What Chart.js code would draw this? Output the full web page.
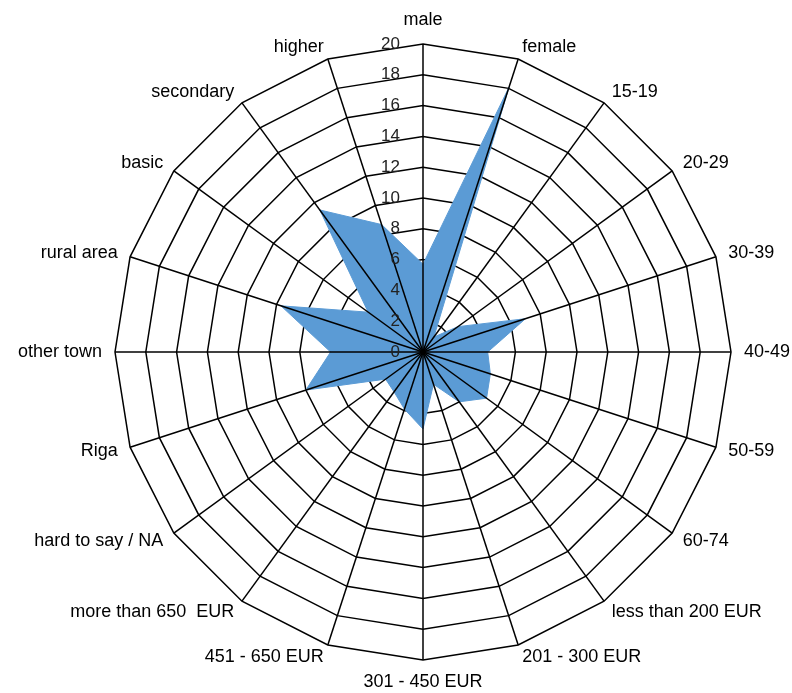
<!DOCTYPE html>
<html>
<head>
<meta charset="utf-8">
<script src="https://cdn.jsdelivr.net/npm/chart.js@4/dist/chart.umd.min.js"></script>
<style>
  body { margin: 0; background: #fff; }
  canvas { display: block; }
</style>
</head>
<body>
<canvas id="radarChart" width="792" height="693"></canvas>
<script>
// categories clockwise from the top
const categories = [
    'male', 'female', '15-19', '20-29', '30-39', '40-49', '50-59', '60-74',
    'less than 200 EUR', '201 - 300 EUR', '301 - 450 EUR', '451 - 650 EUR',
    'more than 650  EUR', 'hard to say / NA', 'Riga', 'other town',
    'rural area', 'basic', 'secondary', 'higher'
];
const values = [
    5.7, 18.1, 1.2, 2.8, 7.0, 4.2, 4.6, 5.1,
    4.0, 2.2, 5.0, 3.9,
    3.2, 3.0, 8.0, 6.0,
    9.7, 4.4, 11.4, 8.7
];
const tickValues = [0, 2, 4, 6, 8, 10, 12, 14, 16, 18, 20];

const fillColor = 'rgb(91, 155, 213)';

// spokes, tick numbers and category names go on top of the filled area
const overlay = {
    id: 'overlay',
    afterDatasetsDraw(chart) {
        const r = chart.scales.r;
        const ctx = chart.ctx;
        ctx.save();

        ctx.strokeStyle = '#000';
        ctx.lineWidth = 1.5;
        categories.forEach((c, i) => {
            const p = r.getPointPositionForValue(i, r.max);
            ctx.beginPath();
            ctx.moveTo(r.xCenter, r.yCenter);
            ctx.lineTo(p.x, p.y);
            ctx.stroke();
        });

        ctx.fillStyle = '#222';
        ctx.font = '17px Arial, "Liberation Sans"';
        ctx.textAlign = 'right';
        ctx.textBaseline = 'middle';
        tickValues.forEach(v => {
            const y = r.yCenter - r.getDistanceFromCenterForValue(v);
            ctx.fillText(String(v), r.xCenter - 23, y);
        });

        ctx.fillStyle = '#000';
        ctx.font = '18px Arial, "Liberation Sans"';
        categories.forEach((c, i) => {
            const a = r.getIndexAngle(i);
            const p = r.getPointPosition(i, r.drawingArea + 13);
            const s = Math.sin(a), co = Math.cos(a);
            ctx.textAlign = Math.abs(s) < 0.01 ? 'center' : (s > 0 ? 'left' : 'right');
            let y = p.y;
            if (co > 0.99) {
                ctx.textBaseline = 'alphabetic';
                y -= 6;
            } else if (co < -0.99) {
                ctx.textBaseline = 'top';
            } else {
                ctx.textBaseline = 'middle';
            }
            ctx.fillText(c, p.x, y);
        });

        ctx.restore();
    }
};

new Chart(document.getElementById('radarChart'), {
    type: 'radar',
    data: {
        labels: categories,
        datasets: [{
            data: values,
            backgroundColor: fillColor,
            borderColor: fillColor,
            borderWidth: 1,
            pointRadius: 0,
            fill: true
        }]
    },
    options: {
        responsive: false,
        animation: false,
        devicePixelRatio: 1,
        layout: {
            padding: { left: 115, right: 61, top: 44, bottom: 33 }
        },
        elements: { line: { tension: 0 } },
        plugins: {
            legend: { display: false },
            tooltip: { enabled: false }
        },
        scales: {
            r: {
                min: 0,
                max: 20,
                ticks: { stepSize: 2, display: false },
                grid: { color: '#000', lineWidth: 1.5 },
                angleLines: { display: false },
                pointLabels: { display: false }
            }
        }
    },
    plugins: [overlay]
});
</script>
</body>
</html>
